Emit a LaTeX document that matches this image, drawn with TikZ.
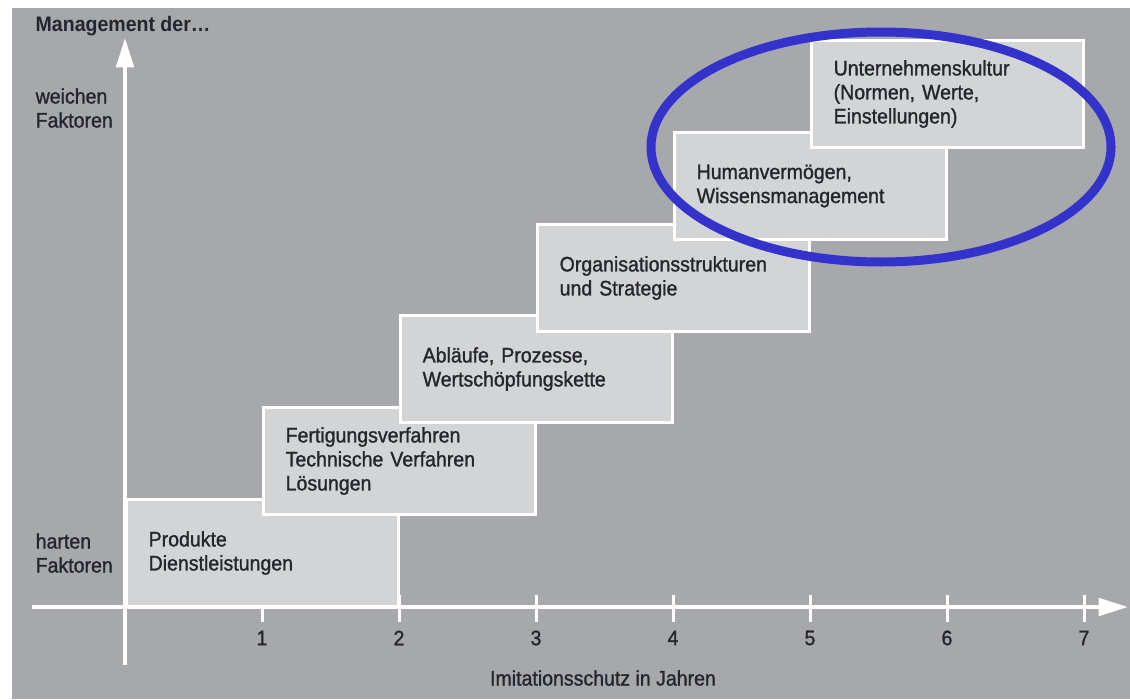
\documentclass[tikz,border=0pt]{standalone}
\usepackage{fontspec}
\setmainfont{Liberation Sans}[FakeStretch=0.93, UprightFeatures={FakeBold=1.2}]
\usepackage{tikz}
\usepackage{xcolor}
\usetikzlibrary{positioning, arrows.meta}
\definecolor{mBack}{HTML}{A7A8AB}
\definecolor{mBox}{HTML}{D3D4D6}
\definecolor{mBlue}{HTML}{3333CC}
\definecolor{mInk}{HTML}{25252E}

\begin{document}
\begin{tikzpicture}[
  x=0.75pt, y=-0.75pt,
  every node/.style={font=\fontsize{15.75}{18}\selectfont, text=mInk},
  stepbox/.style={draw=white, line width=2.25pt, fill=mBox, align=left,
                  text width=170pt, inner xsep=17pt, minimum height=80.25pt},
  axisline/.style={white, line width=3pt, -{Triangle[length=22pt, width=13pt]}},
  tickline/.style={white, line width=2.25pt},
  sidelabel/.style={anchor=west, align=left},
]
  \useasboundingbox (0,0) rectangle (1130,699);
  \fill[mBack] (12,8) rectangle (1130,699);

  % TICKS
  \draw[tickline] (262,595) -- (262,622);  \node (t1) at (262,638) {1};
  \draw[tickline] (399,595) -- (399,622);  \node (t2) at (399,638) {2};
  \draw[tickline] (536,595) -- (536,622);  \node (t3) at (536,638) {3};
  \draw[tickline] (673,595) -- (673,622);  \node (t4) at (673,638) {4};
  \draw[tickline] (810,595) -- (810,622);  \node (t5) at (810,638) {5};
  \draw[tickline] (947,595) -- (947,622);  \node (t6) at (947,638) {6};
  \draw[tickline] (1084,595) -- (1084,622); \node (t7) at (1084,638) {7};

  % STEPS
  \node[stepbox] (prod) at (262,553) {Produkte\\Dienstleistungen};
  \node[stepbox] (fert) at (399,461) {Fertigungsverfahren\\Technische Verfahren\\Lösungen};
  \node[stepbox] (abl)  at (536,369) {Abläufe, Prozesse,\\Wertschöpfungskette};
  \node[stepbox] (org)  at (673,278) {Organisationsstrukturen\\und Strategie};
  \node[stepbox] (hum)  at (810,186) {Humanvermögen,\\Wissensmanagement};
  \node[stepbox] (kult) at (947,94)  {Unternehmenskultur\\(Normen, Werte,\\Einstellungen)};

  % AXES
  \coordinate (xstart) at (32,607);
  \coordinate (xend) at (1128,607);
  \coordinate (ystart) at (125,665);
  \coordinate (yend) at (125,38);
  \draw[axisline] (xstart) -- (xend);
  \draw[axisline] (ystart) -- (yend);

  % FOCUS
  \draw[mBlue, line width=6.75pt] (881,147) ellipse [x radius=172.5pt, y radius=86.25pt];

  % LABELS
  \node[anchor=west, font=\fontsize{15.75}{18}\selectfont\bfseries] (title) at (31,26) {Management der…};
  \node[sidelabel] (soft) at (31,108) {weichen\\Faktoren};
  \node[sidelabel] (hard) at (31,553) {harten\\Faktoren};
  \node (xlabel) at (603,678) {Imitationsschutz in Jahren};
\end{tikzpicture}
\end{document}
